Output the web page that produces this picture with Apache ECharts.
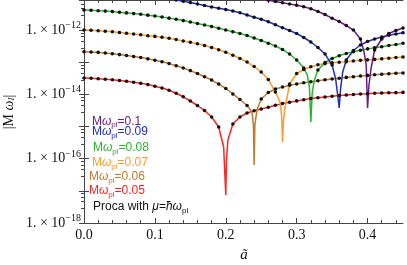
<!DOCTYPE html>
<html><head><meta charset="utf-8">
<script src="https://cdn.jsdelivr.net/npm/echarts@6/dist/echarts.min.js"></script>
<style>html,body{margin:0;padding:0;background:#fff}#c{width:407px;height:265px}</style>
</head><body><div id="c"></div>
<script>
// ---- data ----
const aRed = [0,0.01,0.02,0.03,0.04,0.05,0.06,0.07,0.08,0.09,0.10,0.11,0.12,0.13,0.14,0.15,0.16,0.17,0.18,0.19,0.197,0.2,0.201,0.203,0.21,0.22,0.23,0.24,0.25,0.26,0.27,0.28,0.29,0.30,0.31,0.32,0.33,0.34,0.35,0.36,0.37,0.38,0.39,0.40,0.41,0.42,0.43,0.44,0.45];
const vRed = [3.22e-14,3.16e-14,3.06e-14,2.96e-14,2.83e-14,2.69e-14,2.54e-14,2.38e-14,2.20e-14,2.01e-14,1.79e-14,1.57e-14,1.34e-14,1.08e-14,8.39e-15,6.21e-15,4.50e-15,3.15e-15,1.98e-15,9.66e-16,2.31e-16,7.43e-18,9.10e-17,3.81e-16,1.20e-15,1.98e-15,2.63e-15,3.08e-15,3.50e-15,3.95e-15,4.56e-15,5.15e-15,5.70e-15,6.25e-15,6.81e-15,7.38e-15,7.80e-15,8.26e-15,8.69e-15,9.14e-15,9.53e-15,9.89e-15,1.03e-14,1.05e-14,1.08e-14,1.10e-14,1.12e-14,1.13e-14,1.15e-14];

const aBrown = [0,0.01,0.02,0.03,0.04,0.05,0.06,0.07,0.08,0.09,0.10,0.11,0.12,0.13,0.14,0.15,0.16,0.17,0.18,0.19,0.20,0.21,0.22,0.23,0.237,0.239,0.24,0.241,0.244,0.25,0.26,0.27,0.28,0.29,0.30,0.31,0.32,0.33,0.34,0.35,0.36,0.37,0.38,0.39,0.40,0.41,0.42,0.43,0.44,0.45];
const vBrown = [2.12e-13,2.07e-13,2.01e-13,1.93e-13,1.82e-13,1.72e-13,1.61e-13,1.50e-13,1.39e-13,1.27e-13,1.15e-13,1.03e-13,9.03e-14,7.76e-14,6.59e-14,5.47e-14,4.45e-14,3.51e-14,2.79e-14,2.09e-14,1.52e-14,1.03e-14,6.92e-15,4.50e-15,2.82e-15,1.11e-15,6.37e-17,1.11e-15,3.26e-15,7.16e-15,1.14e-14,1.47e-14,1.69e-14,1.91e-14,2.09e-14,2.29e-14,2.47e-14,2.65e-14,2.83e-14,3.00e-14,3.18e-14,3.36e-14,3.53e-14,3.72e-14,3.88e-14,4.05e-14,4.20e-14,4.35e-14,4.51e-14,4.63e-14];

const aOrange = [0,0.01,0.02,0.03,0.04,0.05,0.06,0.07,0.08,0.09,0.10,0.11,0.12,0.13,0.14,0.15,0.16,0.17,0.18,0.19,0.20,0.21,0.22,0.23,0.24,0.25,0.26,0.27,0.277,0.279,0.28,0.281,0.283,0.29,0.30,0.31,0.32,0.33,0.34,0.35,0.36,0.37,0.38,0.39,0.40,0.41,0.42,0.43,0.44,0.45];
const vOrange = [1.00e-12,9.79e-13,9.51e-13,9.18e-13,8.79e-13,8.36e-13,7.95e-13,7.52e-13,7.10e-13,6.65e-13,6.32e-13,5.93e-13,5.52e-13,5.07e-13,4.55e-13,4.15e-13,3.72e-13,3.30e-13,2.86e-13,2.43e-13,2.03e-13,1.65e-13,1.30e-13,1.01e-13,7.33e-14,4.94e-14,2.89e-14,1.18e-14,5.38e-15,1.84e-15,3.30e-16,1.11e-15,3.26e-15,2.09e-14,4.45e-14,5.92e-14,7.18e-14,8.28e-14,9.03e-14,9.55e-14,9.98e-14,1.04e-13,1.09e-13,1.14e-13,1.18e-13,1.22e-13,1.27e-13,1.33e-13,1.39e-13,1.45e-13];

const aGreen = [0,0.01,0.02,0.03,0.04,0.05,0.06,0.07,0.08,0.09,0.10,0.11,0.12,0.13,0.14,0.15,0.16,0.17,0.18,0.19,0.20,0.21,0.22,0.23,0.24,0.25,0.26,0.27,0.28,0.29,0.30,0.31,0.315,0.318,0.32,0.322,0.325,0.33,0.34,0.35,0.36,0.37,0.38,0.39,0.40,0.41,0.42,0.43,0.44,0.45];
const vGreen = [4.19e-12,4.10e-12,3.98e-12,3.87e-12,3.73e-12,3.57e-12,3.40e-12,3.24e-12,3.08e-12,2.90e-12,2.72e-12,2.54e-12,2.34e-12,2.15e-12,1.96e-12,1.77e-12,1.59e-12,1.43e-12,1.28e-12,1.14e-12,1.00e-12,8.79e-13,7.78e-13,6.75e-13,5.64e-13,4.72e-13,3.89e-13,3.18e-13,2.48e-13,1.79e-13,1.17e-13,6.59e-14,3.99e-14,1.69e-14,1.38e-15,1.18e-14,2.79e-14,5.71e-14,9.77e-14,1.30e-13,1.58e-13,1.86e-13,2.10e-13,2.36e-13,2.59e-13,2.80e-13,3.03e-13,3.30e-13,3.56e-13,3.86e-13];

const aBlue = [0,0.01,0.02,0.03,0.04,0.05,0.06,0.07,0.08,0.09,0.10,0.11,0.12,0.13,0.14,0.15,0.16,0.17,0.18,0.19,0.20,0.21,0.22,0.23,0.24,0.25,0.26,0.27,0.28,0.29,0.30,0.31,0.32,0.33,0.34,0.35,0.355,0.358,0.36,0.362,0.365,0.37,0.38,0.39,0.40,0.41,0.42,0.43,0.44,0.45];
const vBlue = [1.57e-11,1.55e-11,1.52e-11,1.49e-11,1.44e-11,1.40e-11,1.35e-11,1.30e-11,1.23e-11,1.16e-11,1.09e-11,1.02e-11,9.40e-12,8.63e-12,7.86e-12,7.11e-12,6.43e-12,5.78e-12,5.22e-12,4.76e-12,4.31e-12,3.90e-12,3.43e-12,2.93e-12,2.50e-12,2.15e-12,1.80e-12,1.46e-12,1.17e-12,9.65e-13,7.78e-13,5.85e-13,4.24e-13,2.86e-13,1.79e-13,8.17e-14,3.00e-14,8.87e-15,3.76e-15,1.57e-14,4.94e-14,1.17e-13,2.31e-13,3.42e-13,4.39e-13,5.25e-13,6.05e-13,6.84e-13,7.52e-13,8.18e-13];

const aPurple = [0,0.01,0.02,0.03,0.04,0.05,0.06,0.07,0.08,0.09,0.10,0.11,0.12,0.13,0.14,0.15,0.16,0.17,0.18,0.19,0.20,0.21,0.22,0.23,0.24,0.25,0.26,0.27,0.28,0.29,0.30,0.31,0.32,0.33,0.34,0.35,0.36,0.37,0.38,0.39,0.395,0.398,0.4,0.402,0.405,0.41,0.42,0.43,0.44,0.45];
const vPurple = [4.13e-11,4.10e-11,4.05e-11,3.96e-11,3.85e-11,3.72e-11,3.58e-11,3.44e-11,3.29e-11,3.15e-11,3.00e-11,2.85e-11,2.69e-11,2.54e-11,2.40e-11,2.25e-11,2.09e-11,1.95e-11,1.80e-11,1.66e-11,1.52e-11,1.39e-11,1.27e-11,1.16e-11,1.05e-11,9.40e-12,8.38e-12,7.69e-12,7.06e-12,6.47e-12,5.90e-12,5.26e-12,4.56e-12,3.76e-12,3.03e-12,2.31e-12,1.84e-12,1.38e-12,1.00e-12,5.25e-13,2.07e-13,8.77e-14,3.76e-15,1.95e-14,6.59e-14,2.39e-13,5.25e-13,7.78e-13,9.65e-13,1.15e-12];

const legendValues = ['0.1','0.09','0.08','0.07','0.06','0.05'];
const xMajorTicks = [0,0.1,0.2,0.3,0.4];
const xMinorTicks = [0.02,0.04,0.06,0.08,0.12,0.14,0.16,0.18,0.22,0.24,0.26,0.28,0.32,0.34,0.36,0.38,0.42,0.44];
const yLabelExponents = [-18,-16,-14,-12];

// ---- styling ----
const C = {purple:'#6a1b80', blue:'#1f2fbf', green:'#2ab52a', orange:'#ff9a2e', brown:'#bf7a32', red:'#ff2424'};
const AX = '#444';
const SERIF = 'Liberation Serif';
const SANS = 'Liberation Sans';
const YMIN = 1e-18, YMAX = 8.57e-12;

function mk(a, v, color) {
  const vmin = Math.min(...v);
  return {
    type:'line', xAxisIndex:0, yAxisIndex:0, smooth:false, clip:true, silent:true,
    symbolSize:3.6, showSymbol:true,
    itemStyle:{color:'#111'}, lineStyle:{color:color, width:1.5},
    emphasis:{disabled:true},
    data: a.map((x,i)=>({value:[x, v[i]],
      symbol: (Math.abs(x*100-Math.round(x*100))<1e-6 && v[i]!==vmin) ? 'circle' : 'none'}))
  };
}

function xAx(pos, ticks, len, showLine, labels) {
  return {type:'value', min:0, max:0.45, position:pos,
    axisLine:{show:showLine, lineStyle:{color:AX, width:1}},
    axisTick:{show:true, inside:true, length:len, customValues:ticks, lineStyle:{color:AX}},
    axisLabel: labels ? {show:true, customValues:ticks, formatter:v=>v.toFixed(1), margin:5,
      fontFamily:SERIF, fontSize:14, color:'#111'} : {show:false},
    splitLine:{show:false}};
}

const chart = echarts.init(document.getElementById('c'), null, {renderer:'canvas'});
const option = {
  animation:false,
  backgroundColor:'#fff',
  grid:{left:84, right:4, top:0, bottom:42},
  xAxis:[
    xAx('bottom', xMajorTicks, 5, true, true),
    xAx('bottom', xMinorTicks, 3, false, false),
    xAx('top', xMajorTicks, 5, true, false),
    xAx('top', xMinorTicks, 3, false, false)
  ],
  yAxis:[
    {type:'log', min:YMIN, max:YMAX, splitNumber:7, position:'left',
      axisLine:{show:true, lineStyle:{color:AX}},
      axisTick:{show:true, inside:true, length:5, lineStyle:{color:AX}},
      minorTick:{show:false},
      splitLine:{show:false},
      axisLabel:{margin:3, formatter:function(v){
        const l = Math.log10(v), e = Math.round(l);
        if (Math.abs(l-e) > 1e-6 || yLabelExponents.indexOf(e) < 0) return '';
        return '{b|1. \u00d7 10}{s|\u2212' + (-e) + '}';
      }, rich:{
        b:{fontFamily:SERIF, fontSize:14, color:'#111'},
        s:{fontFamily:SERIF, fontSize:10, color:'#111', padding:[0,0,9,0]}
      }}},
    {type:'log', min:YMIN, max:YMAX, splitNumber:7, position:'right',
      axisLine:{show:true, lineStyle:{color:AX}},
      axisTick:{show:true, inside:true, length:5, lineStyle:{color:AX}},
      minorTick:{show:true, splitNumber:5, length:3, lineStyle:{color:AX}},
      splitLine:{show:false}, axisLabel:{show:false}}
  ],
  series:[
    mk(aRed, vRed, C.red),
    mk(aBrown, vBrown, C.brown),
    mk(aOrange, vOrange, C.orange),
    mk(aGreen, vGreen, C.green),
    mk(aBlue, vBlue, C.blue),
    mk(aPurple, vPurple, C.purple)
  ],
  graphic:[]
};

const legendColors = [C.purple, C.blue, C.green, C.orange, C.brown, C.red];
const legendX = [92, 92, 93, 92, 89, 89];
const legendY = [121.5, 132, 148, 163, 177, 191];
legendValues.forEach((val, i) => {
  option.graphic.push({type:'text', x:legendX[i], y:legendY[i], silent:true,
    style:{text:'{m|M}{w|\u03c9}{p|pl}{m|=' + val + '}', align:'left', verticalAlign:'middle',
      fill:legendColors[i],
      rich:{
        m:{fontFamily:SANS, fontSize:12, fill:legendColors[i]},
        w:{fontFamily:SANS, fontSize:12, fontStyle:'italic', fill:legendColors[i]},
        p:{fontFamily:SANS, fontSize:8, fill:legendColors[i], padding:[7,0,0,0]}
      }}});
});
option.graphic.push({type:'text', x:93, y:207, silent:true,
  style:{text:'{m|Proca with }{w|\u03bc}{m|=}{w|\u0127\u03c9}{p|pl}', align:'left', verticalAlign:'middle', fill:'#111',
    rich:{
      m:{fontFamily:SANS, fontSize:12, fill:'#111'},
      w:{fontFamily:SANS, fontSize:12, fontStyle:'italic', fill:'#111'},
      p:{fontFamily:SANS, fontSize:8, fill:'#111', padding:[7,0,0,0]}
    }}});
// axis titles
option.graphic.push({type:'text', x:244, y:255, silent:true,
  style:{text:'\u00e3', font:'italic 15px "Liberation Serif"', fill:'#111', align:'center', verticalAlign:'middle'}});
option.graphic.push({type:'text', x:9, y:112, rotation:Math.PI/2, silent:true,
  style:{text:'{n||M }{w|\u03c9}{s|I}{n||}', align:'center', verticalAlign:'middle', fill:'#111',
    rich:{
      n:{fontFamily:SERIF, fontSize:14, fill:'#111'},
      w:{fontFamily:SERIF, fontSize:14, fontStyle:'italic', fill:'#111'},
      s:{fontFamily:SERIF, fontSize:9, fontStyle:'italic', fill:'#111', padding:[6,0,0,0]}
    }}});

chart.setOption(option);
</script>
</body></html>
